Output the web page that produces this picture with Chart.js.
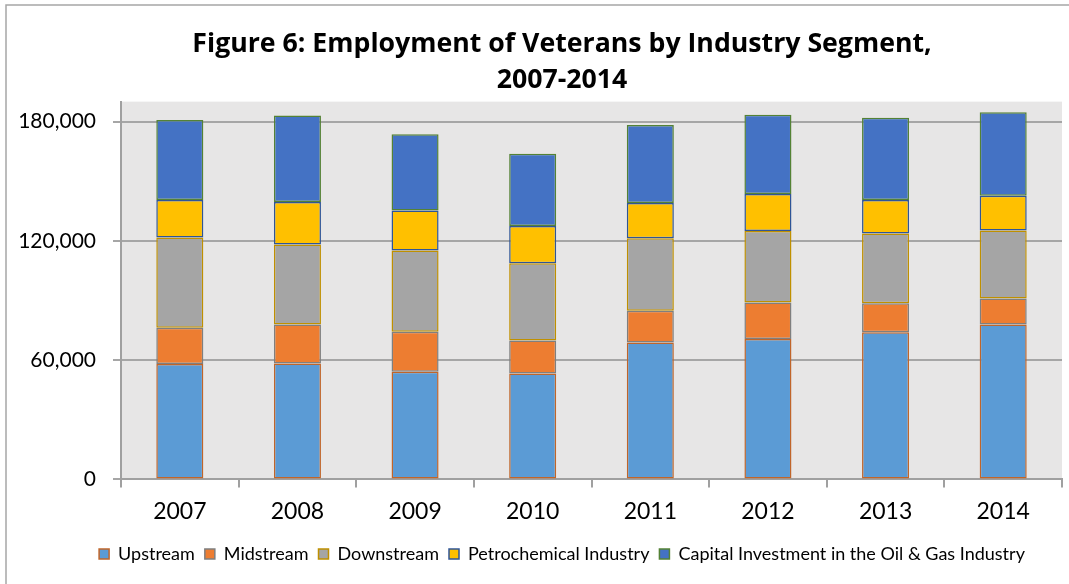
<!DOCTYPE html>
<html>
<head>
<meta charset="utf-8">
<script src="https://cdn.jsdelivr.net/npm/chart.js@4.4.1/dist/chart.umd.min.js"></script>
<style>
  html, body { margin: 0; padding: 0; background: #ffffff; overflow: hidden; }
  #wrap { width: 1069px; height: 584px; overflow: hidden; }
</style>
</head>
<body>
<div id="wrap"><canvas id="veterans" width="1109" height="584"></canvas></div>
<script>
var Years = ['2007', '2008', '2009', '2010', '2011', '2012', '2013', '2014'];
var Upstream = [58000, 58300, 54100, 53200, 68900, 70600, 74000, 77900];
var Midstream = [18300, 19600, 20100, 16700, 15900, 18400, 14600, 13100];
var Downstream = [45400, 40200, 40900, 38800, 36500, 35900, 35100, 34200];
var Petrochemical = [18800, 21400, 20200, 18700, 17700, 18700, 16800, 17400];
var Capital = [40300, 43500, 38300, 36400, 39300, 39800, 41400, 42100];
var YTicks = [0, 60000, 120000, 180000];

var fontName = 'Lato, "Open Sans", sans-serif';

// grey plot area + the chart frame (only left/top edges are inside the picture)
var backdrop = {
    id: 'backdrop',
    beforeDraw: function (chart) {
        var ctx = chart.ctx;
        var a = chart.chartArea;
        ctx.save();
        ctx.fillStyle = '#e7e6e6';
        ctx.fillRect(a.left, a.top, a.right - a.left, a.bottom - a.top);
        ctx.strokeStyle = '#a6a6a6';
        ctx.lineWidth = 1.5;
        ctx.strokeRect(6, 5, 1200, 800);
        ctx.restore();
    }
};

function makeSet(label, values, fill, edge) {
    return {
        label: label,
        data: values,
        backgroundColor: fill,
        borderColor: edge,
        borderWidth: 1.5,
        borderSkipped: false,
        categoryPercentage: 1,
        barPercentage: 0.4
    };
}

let barChart = new Chart("veterans", {
    type: "bar",
    data: {
        labels: Years,
        datasets: [
            makeSet('Upstream', Upstream, '#5b9bd5', '#c0652a'),
            makeSet('Midstream', Midstream, '#ed7d31', '#7f7f7f'),
            makeSet('Downstream', Downstream, '#a5a5a5', '#bf9000'),
            makeSet('Petrochemical Industry', Petrochemical, '#ffc000', '#2f5597'),
            makeSet('Capital Investment in the Oil & Gas Industry', Capital, '#4472c4', '#548235')
        ]
    },
    options: {
        responsive: false,
        animation: false,
        layout: { padding: { left: 15, right: 0, top: 10, bottom: 11 } },
        plugins: {
            title: {
                display: true,
                text: ['Figure 6: Employment of Veterans by Industry Segment,', '2007-2014'],
                color: '#000000',
                font: { family: '"Open Sans", Lato, sans-serif', size: 26.7, weight: 'bold', lineHeight: 1.36 },
                padding: { top: 16, bottom: 3 }
            },
            legend: {
                position: 'bottom',
                labels: {
                    color: '#000000',
                    font: { family: fontName, size: 18 },
                    boxWidth: 10,
                    boxHeight: 10,
                    padding: 10
                }
            },
            tooltip: { enabled: false }
        },
        scales: {
            x: {
                stacked: true,
                border: { color: '#a0a0a0', width: 2 },
                grid: { drawOnChartArea: false, drawTicks: true, tickLength: 8, color: '#a0a0a0', lineWidth: 2 },
                ticks: { color: '#000000', font: { family: fontName, size: 23 }, padding: 10 }
            },
            y: {
                stacked: true,
                min: 0,
                max: 190000,
                afterBuildTicks: function (scale) {
                    scale.ticks = YTicks.map(v => ({ value: v }));
                },
                afterFit: function (scale) {
                    scale.width = 106;
                },
                border: { color: '#a0a0a0', width: 2 },
                grid: { color: '#a6a6a6', lineWidth: 2, tickLength: 8 },
                ticks: {
                    color: '#000000',
                    font: { family: fontName, size: 21 },
                    padding: 17,
                    callback: function (v) { return Number(v).toLocaleString('en-US'); }
                }
            },
            // empty strip on the right, only there so the title/legend centre like the original
            spacer: {
                type: 'linear',
                position: 'right',
                display: true,
                grid: { display: false },
                border: { display: false },
                ticks: { display: false },
                afterFit: function (scale) {
                    scale.width = 47;
                }
            }
        }
    },
    plugins: [backdrop]
});
</script>
</body>
</html>
